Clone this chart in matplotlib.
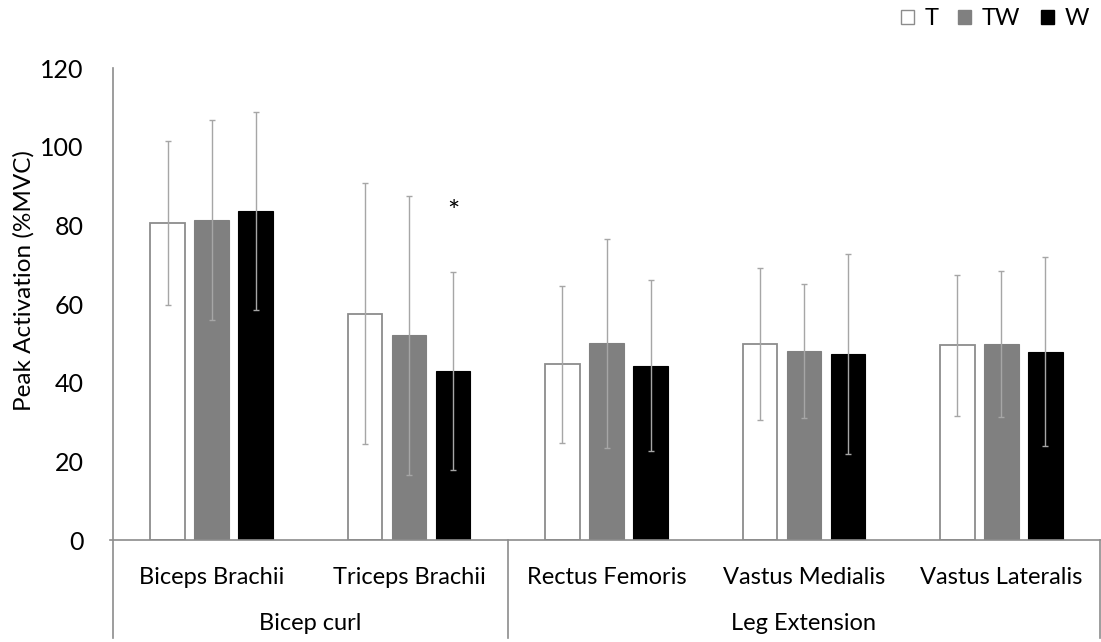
import matplotlib
matplotlib.use("Agg")
import matplotlib.pyplot as plt
from matplotlib.patches import Patch
import numpy as np

plt.rcParams['font.family'] = ['Lato', 'DejaVu Sans']

muscles = ["Biceps Brachii", "Triceps Brachii", "Rectus Femoris", "Vastus Medialis", "Vastus Lateralis"]
groups = ["Bicep curl", "Leg Extension"]
group_sizes = [2, 3]
series = ["T", "TW", "W"]
T_mean = [80.6, 57.5, 44.7, 49.9, 49.5]
TW_mean = [81.3, 52.0, 50.0, 48.1, 49.9]
W_mean = [83.7, 43.0, 44.3, 47.3, 47.9]
T_sd = [20.8, 33.2, 20.0, 19.3, 18.0]
TW_sd = [25.4, 35.5, 26.5, 17.0, 18.6]
W_sd = [25.2, 25.1, 21.7, 25.4, 24.1]
sig_muscle = 1
sig_series = 2
sig_y = 85.2

fig = plt.figure(figsize=(11.01, 6.42), dpi=100)
ax = fig.add_axes([113/1101, 102/642, 987/1101, 472/642])

x = np.arange(len(muscles))
w = 0.175
off = 0.223
err_kw = dict(ecolor="#a6a6a6", elinewidth=1.0, capsize=2, capthick=1.0)
ax.bar(x - off, T_mean, w, yerr=T_sd, color="white", edgecolor="#8c8c8c", linewidth=1.3, error_kw=err_kw, zorder=2)
ax.bar(x, TW_mean, w, yerr=TW_sd, color="#808080", edgecolor="#808080", linewidth=0.8, error_kw=err_kw, zorder=2)
ax.bar(x + off, W_mean, w, yerr=W_sd, color="black", edgecolor="black", linewidth=0.8, error_kw=err_kw, zorder=2)

ax.annotate("*", (sig_muscle + (sig_series - 1) * off, sig_y), xytext=(0, -6), textcoords="offset points",
            ha="center", va="center", fontsize=21)

ax.set_xlim(-0.5, len(muscles) - 0.5)
ax.set_ylim(0, 120)
ax.set_yticks(np.arange(0, 121, 20))
ax.tick_params(axis="y", length=0, pad=21, labelsize=18)
ax.set_xticks([])
for s in ax.spines.values():
    s.set_visible(False)
ax.set_ylabel("Peak Activation (%MVC)", fontsize=17.5)
ax.yaxis.set_label_coords(-0.079, 0.55)

trans = ax.get_xaxis_transform()
lc = "#8c8c8c"
# baseline
ax.plot([-0.515, len(muscles) - 0.5], [0, 0], transform=trans, color=lc, lw=1.2, clip_on=False, zorder=3)
# left spine (extends into category area)
ax.plot([-0.5, -0.5], [1.0, -0.208], transform=trans, color=lc, lw=1.2, clip_on=False)
# group separators
b = -0.5
for gs in group_sizes:
    b += gs
    ax.plot([b, b], [0, -0.208], transform=trans, color=lc, lw=1.2, clip_on=False)

for i, m in enumerate(muscles):
    ax.text(i, -0.08, m, transform=trans, ha="center", va="center", fontsize=17)
start = 0
for g, gs in zip(groups, group_sizes):
    c = start + (gs - 1) / 2
    ax.text(c, -0.176, g, transform=trans, ha="center", va="center", fontsize=17)
    start += gs

handles = [Patch(facecolor="white", edgecolor="#8c8c8c", linewidth=1.0),
           Patch(facecolor="#808080", edgecolor="#808080"),
           Patch(facecolor="black", edgecolor="black")]
fig.legend(handles, series, loc="upper right", bbox_to_anchor=(1097/1101, 1.0), ncol=3, frameon=False,
           borderaxespad=0.0, borderpad=0.35, fontsize=17, handlelength=0.55, handleheight=0.55,
           handletextpad=0.45, columnspacing=0.85)

fig.savefig("out.png", dpi=100)
